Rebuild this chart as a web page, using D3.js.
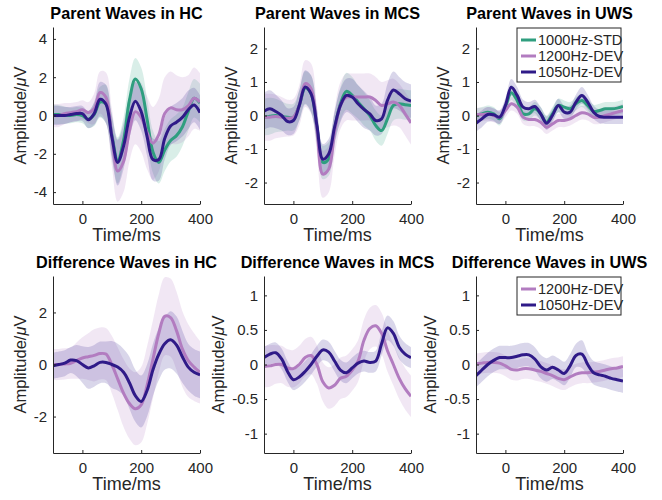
<!DOCTYPE html>
<html>
<head>
<meta charset="utf-8">
<script src="https://cdn.jsdelivr.net/npm/d3@7"></script>
<style>
  html, body { margin: 0; padding: 0; background: #fff; }
  svg { display: block; }
  text { font-family: "Liberation Sans", Arial, Helvetica, sans-serif; }
</style>
</head>
<body>
<svg id="fig" width="662" height="500"></svg>
<script>
// Sample times (ms)
const times = [-100,-80,-60,-40,-20,0,20,40,60,80,100,120,140,160,180,200,220,240,260,280,300,320,340,360,380,400];

const seriesNames = ["1000Hz-STD", "1200Hz-DEV", "1050Hz-DEV"];
const diffNames = ["1200Hz-DEV", "1050Hz-DEV"];
const xTicks = [0, 200, 400];

// ---- Parent waves, HC ----
const hcStd      = [0.05,0.05,0.02,0.0,0.05,0.0,-0.2,0.05,0.7,0.6,-1.0,-2.35,-1.3,0.8,1.9,1.4,-0.2,-1.9,-2.45,-1.8,-1.3,-1.05,-0.6,0.2,0.9,0.65];
const hcDev1200  = [0.0,0.0,0.1,0.15,0.2,0.3,0.15,0.35,1.2,0.95,-1.1,-2.9,-2.4,-0.8,0.2,-0.1,-0.9,-1.45,-1.0,0.1,0.4,0.3,0.3,0.5,0.9,0.7];
const hcDev1050  = [0.0,0.0,0.0,0.05,0.1,0.1,-0.22,0.1,0.85,0.6,-1.1,-2.45,-1.6,-0.1,0.75,0.2,-1.1,-2.3,-2.3,-1.2,-0.55,-0.35,-0.1,0.3,0.55,0.15];
const hcStdErr     = [0.5,0.5,0.45,0.4,0.4,0.4,0.45,0.6,0.8,1.0,1.1,1.2,1.2,1.1,1.1,1.1,1.1,1.1,1.1,1.1,1.1,1.1,1.0,1.0,1.0,1.0];
const hcDev1200Err = [0.6,0.6,0.55,0.5,0.5,0.5,0.55,0.8,1.1,1.3,1.5,1.6,1.6,1.6,1.7,1.8,1.9,1.9,1.9,1.9,1.9,1.8,1.7,1.6,1.6,1.5];
const hcDev1050Err = [0.5,0.5,0.45,0.4,0.4,0.4,0.45,0.6,0.9,1.0,1.1,1.2,1.2,1.1,1.0,1.0,1.0,1.1,1.1,1.1,1.0,1.0,1.0,1.0,0.9,0.9];

// ---- Parent waves, MCS ----
const mcsStd      = [-0.05,-0.02,0.0,-0.03,-0.05,-0.05,0.3,0.82,0.65,-0.35,-1.4,-1.3,-0.4,0.35,0.72,0.6,0.4,0.2,0.0,-0.3,-0.45,-0.1,0.3,0.35,0.32,0.3];
const mcsDev1200  = [-0.05,-0.05,-0.03,-0.05,-0.08,-0.05,0.3,0.95,0.8,-0.4,-1.75,-1.6,-0.5,0.3,0.55,0.55,0.55,0.55,0.55,0.45,0.3,0.35,0.4,0.3,0.05,-0.22];
const mcsDev1050  = [0.13,0.2,0.12,0.0,-0.18,-0.15,0.3,0.85,0.65,-0.3,-1.3,-1.15,-0.35,0.3,0.6,0.55,0.35,0.18,0.05,-0.15,-0.1,0.45,0.76,0.65,0.5,0.43];
const mcsStdErr     = [0.55,0.55,0.5,0.45,0.4,0.4,0.45,0.5,0.55,0.5,0.5,0.5,0.5,0.5,0.55,0.55,0.5,0.5,0.45,0.45,0.45,0.45,0.45,0.45,0.45,0.45];
const mcsDev1200Err = [0.7,0.7,0.65,0.6,0.55,0.55,0.6,0.7,0.75,0.7,0.7,0.7,0.7,0.7,0.7,0.7,0.7,0.7,0.7,0.7,0.7,0.7,0.7,0.65,0.65,0.65];
const mcsDev1050Err = [0.55,0.55,0.5,0.45,0.4,0.4,0.45,0.5,0.55,0.5,0.45,0.45,0.45,0.5,0.5,0.55,0.55,0.55,0.5,0.45,0.45,0.5,0.55,0.5,0.5,0.5];

// ---- Parent waves, UWS ----
const uwsStd      = [0.0,0.05,0.1,0.05,-0.1,0.25,0.68,0.45,0.05,0.05,0.2,0.05,-0.2,0.05,0.3,0.25,0.2,0.35,0.45,0.3,0.12,0.15,0.2,0.2,0.22,0.27];
const uwsDev1200  = [0.03,0.03,0.05,0.0,-0.05,0.15,0.35,0.25,-0.05,-0.12,-0.12,-0.2,-0.35,-0.25,-0.15,-0.15,-0.1,0.0,0.08,0.05,-0.05,-0.05,0.0,0.05,0.1,0.15];
const uwsDev1050  = [-0.23,-0.1,0.03,0.02,-0.05,0.3,0.84,0.6,0.25,0.2,0.27,0.05,-0.23,0.0,0.3,0.1,0.1,0.4,0.6,0.4,0.1,-0.03,-0.05,-0.05,-0.05,-0.05];
const uwsStdErr     = [0.2,0.2,0.2,0.2,0.2,0.2,0.22,0.22,0.2,0.2,0.2,0.2,0.2,0.2,0.2,0.2,0.2,0.2,0.2,0.2,0.2,0.2,0.2,0.2,0.2,0.2];
const uwsDev1200Err = [0.2,0.2,0.2,0.2,0.2,0.2,0.2,0.2,0.2,0.2,0.2,0.2,0.2,0.2,0.2,0.2,0.2,0.2,0.2,0.2,0.2,0.2,0.2,0.2,0.2,0.2];
const uwsDev1050Err = [0.25,0.25,0.22,0.2,0.2,0.22,0.25,0.25,0.22,0.2,0.2,0.2,0.2,0.2,0.2,0.2,0.2,0.22,0.25,0.22,0.2,0.2,0.2,0.2,0.2,0.2];

// ---- Difference waves (DEV - STD) ----
const hcDiff1200  = [0.0,0.0,0.02,0.05,0.15,0.25,0.3,0.35,0.42,0.4,0.0,-0.55,-1.1,-1.5,-1.7,-1.55,-0.8,0.2,1.2,1.85,1.8,1.3,0.6,0.15,-0.1,-0.3];
const hcDiff1050  = [-0.05,0.0,0.05,0.17,0.15,0.0,-0.13,-0.05,0.08,0.08,0.0,-0.1,-0.3,-0.7,-1.2,-1.42,-1.0,-0.2,0.4,0.8,0.95,0.75,0.3,-0.1,-0.3,-0.4];
const hcDiff1200Err = [0.6,0.6,0.6,0.6,0.7,0.8,0.9,1.0,1.0,1.0,1.1,1.2,1.3,1.35,1.4,1.45,1.5,1.5,1.5,1.5,1.5,1.5,1.45,1.4,1.3,1.2];
const hcDiff1050Err = [0.5,0.5,0.5,0.5,0.6,0.7,0.8,0.8,0.8,0.8,0.9,0.9,0.9,1.0,1.0,1.0,1.0,1.0,1.0,1.0,1.1,1.1,1.0,0.9,0.9,0.9];

const mcsDiff1200 = [-0.03,-0.02,0.0,0.0,-0.05,-0.06,0.0,0.1,0.13,0.0,-0.25,-0.34,-0.3,-0.2,-0.17,-0.08,0.05,0.35,0.52,0.56,0.45,0.2,0.0,-0.2,-0.35,-0.46];
const mcsDiff1050 = [0.1,0.15,0.17,0.08,-0.1,-0.22,-0.18,-0.1,0.0,0.12,0.21,0.18,0.05,-0.08,-0.12,-0.05,0.02,0.05,0.03,0.05,0.3,0.53,0.45,0.25,0.15,0.1];
const mcsDiff1200Err = [0.3,0.3,0.28,0.27,0.27,0.27,0.27,0.27,0.27,0.28,0.28,0.3,0.3,0.3,0.3,0.3,0.3,0.3,0.3,0.3,0.3,0.3,0.3,0.3,0.3,0.3];
const mcsDiff1050Err = [0.15,0.15,0.15,0.15,0.15,0.15,0.15,0.15,0.15,0.15,0.15,0.15,0.15,0.15,0.15,0.15,0.15,0.15,0.15,0.15,0.17,0.18,0.18,0.17,0.16,0.15];

const uwsDiff1200 = [0.01,0.02,0.03,0.03,0.02,-0.02,-0.07,-0.08,-0.06,-0.06,-0.08,-0.1,-0.13,-0.16,-0.2,-0.22,-0.18,-0.14,-0.12,-0.12,-0.11,-0.1,-0.08,-0.06,-0.05,-0.03];
const uwsDiff1050 = [-0.16,-0.08,0.0,0.06,0.1,0.1,0.1,0.12,0.14,0.14,0.08,-0.03,-0.08,-0.04,-0.08,-0.13,-0.02,0.13,0.15,0.0,-0.12,-0.15,-0.17,-0.2,-0.22,-0.24];
const uwsDiff1200Err = [0.15,0.15,0.15,0.15,0.15,0.15,0.15,0.15,0.15,0.15,0.15,0.15,0.15,0.15,0.15,0.15,0.15,0.15,0.15,0.15,0.15,0.15,0.15,0.15,0.15,0.15];
const uwsDiff1050Err = [0.17,0.17,0.17,0.17,0.17,0.17,0.17,0.17,0.17,0.17,0.17,0.17,0.17,0.17,0.17,0.17,0.17,0.17,0.2,0.17,0.17,0.17,0.17,0.17,0.17,0.17];

// Colours per condition
const colorStd = "#2f9e7f";
const color1200 = "#b27cc0";
const color1050 = "#2f1a88";

// Panel layout table
const leftEdges = [53, 264, 476];
const plotWidth = 147;
const rowTops = [27, 276];
const plotHeight = 177;

const panels = [
  { title: "Parent Waves in HC",  col: 0, row: 0, lim: 4.62, yTicks: [-4,-2,0,2,4],
    series: [[hcStd, hcStdErr, colorStd], [hcDev1200, hcDev1200Err, color1200], [hcDev1050, hcDev1050Err, color1050]] },
  { title: "Parent Waves in MCS", col: 1, row: 0, lim: 2.64, yTicks: [-2,-1,0,1,2],
    series: [[mcsStd, mcsStdErr, colorStd], [mcsDev1200, mcsDev1200Err, color1200], [mcsDev1050, mcsDev1050Err, color1050]] },
  { title: "Parent Waves in UWS", col: 2, row: 0, lim: 2.64, yTicks: [-2,-1,0,1,2],
    series: [[uwsStd, uwsStdErr, colorStd], [uwsDev1200, uwsDev1200Err, color1200], [uwsDev1050, uwsDev1050Err, color1050]],
    legend: { names: seriesNames, colors: [colorStd, color1200, color1050] } },
  { title: "Difference Waves in HC",  col: 0, row: 1, lim: 3.4, yTicks: [-2,0,2],
    series: [[hcDiff1200, hcDiff1200Err, color1200], [hcDiff1050, hcDiff1050Err, color1050]] },
  { title: "Difference Waves in MCS", col: 1, row: 1, lim: 1.28, yTicks: [-1,-0.5,0,0.5,1],
    series: [[mcsDiff1200, mcsDiff1200Err, color1200], [mcsDiff1050, mcsDiff1050Err, color1050]] },
  { title: "Difference Waves in UWS", col: 2, row: 1, lim: 1.28, yTicks: [-1,-0.5,0,0.5,1],
    series: [[uwsDiff1200, uwsDiff1200Err, color1200], [uwsDiff1050, uwsDiff1050Err, color1050]],
    legend: { names: diffNames, colors: [color1200, color1050] } }
];

const svg = d3.select("#fig");
const axisColor = "#262626";
const curve = d3.curveCatmullRom.alpha(0.5);

panels.forEach((p, i) => {
  const x0 = leftEdges[p.col], y0 = rowTops[p.row];
  const g = svg.append("g").attr("transform", `translate(${x0},${y0})`);
  const x = d3.scaleLinear().domain([-100, 400]).range([0, plotWidth]);
  const y = d3.scaleLinear().domain([-p.lim, p.lim]).range([plotHeight, 0]);

  const clipId = "clip" + i;
  g.append("clipPath").attr("id", clipId).append("rect")
    .attr("x", 0).attr("y", 0).attr("width", plotWidth).attr("height", plotHeight);
  const plot = g.append("g").attr("clip-path", `url(#${clipId})`);

  // shaded error bands
  p.series.forEach(([vals, err, col]) => {
    const area = d3.area().curve(curve)
      .x((d, k) => x(times[k]))
      .y0((d, k) => y(vals[k] - err[k]))
      .y1((d, k) => y(vals[k] + err[k]));
    plot.append("path").datum(vals).attr("d", area)
      .attr("fill", col).attr("fill-opacity", 0.18).attr("stroke", "none");
  });
  // mean waveforms
  p.series.forEach(([vals, err, col]) => {
    const line = d3.line().curve(curve)
      .x((d, k) => x(times[k]))
      .y(d => y(d));
    plot.append("path").datum(vals).attr("d", line)
      .attr("fill", "none").attr("stroke", col).attr("stroke-width", 3)
      .attr("stroke-linejoin", "round");
  });

  // axes (ticks point inward)
  const xAxis = d3.axisBottom(x).tickValues(xTicks).tickSizeInner(-3).tickSizeOuter(0).tickPadding(9);
  const gx = g.append("g").attr("transform", `translate(0,${plotHeight})`).call(xAxis);
  const yAxis = d3.axisLeft(y).tickValues(p.yTicks).tickSizeInner(-3).tickSizeOuter(0).tickPadding(6)
    .tickFormat(d3.format("~g"));
  const gy = g.append("g").call(yAxis);
  [gx, gy].forEach(a => {
    a.select(".domain").attr("stroke", axisColor).attr("stroke-width", 1);
    a.selectAll(".tick line").attr("stroke", axisColor);
    a.selectAll(".tick text").attr("fill", axisColor)
      .style("font-size", "15px").style("font-family", "'Liberation Sans', Arial, sans-serif");
  });
  gy.selectAll(".tick text").text(d => d3.format("~g")(d).replace("\u2212", "-"));

  // y label placed left of the tick labels
  let minX = 0;
  gy.selectAll(".tick text").each(function() {
    const b = this.getBBox();
    minX = Math.min(minX, -6 - b.width);
  });
  const yl = g.append("text")
    .attr("transform", `translate(${minX - 8},${plotHeight / 2}) rotate(-90)`)
    .attr("text-anchor", "middle").attr("fill", axisColor)
    .style("font-size", "16.5px");
  yl.append("tspan").text("Amplitude/");
  yl.append("tspan").text("\u03bc").style("font-style", "italic");
  yl.append("tspan").text("V");

  g.append("text").attr("x", plotWidth / 2).attr("y", plotHeight + 37)
    .attr("text-anchor", "middle").attr("fill", axisColor)
    .style("font-size", "18px").text("Time/ms");

  g.append("text").attr("x", plotWidth / 2).attr("y", -8)
    .attr("text-anchor", "middle").attr("fill", "#000")
    .style("font-size", "16.2px").style("font-weight", "bold").text(p.title);

  if (p.legend) {
    const n = p.legend.names.length;
    const rowH = 16;
    const lx = 41, ly = 1;
    const lw = 104, lh = n * rowH + 6;
    const lg = g.append("g").attr("transform", `translate(${lx},${ly})`);
    lg.append("rect").attr("width", lw).attr("height", lh)
      .attr("fill", "#fff").attr("stroke", axisColor).attr("stroke-width", 1);
    p.legend.names.forEach((nm, k) => {
      const cy = 3 + rowH * k + rowH / 2 + 1;
      lg.append("line").attr("x1", 4).attr("x2", 19).attr("y1", cy).attr("y2", cy)
        .attr("stroke", p.legend.colors[k]).attr("stroke-width", 3);
      lg.append("text").attr("x", 21).attr("y", cy + 5).attr("fill", axisColor)
        .style("font-size", "14.6px").text(nm);
    });
  }
});
</script>
</body>
</html>
